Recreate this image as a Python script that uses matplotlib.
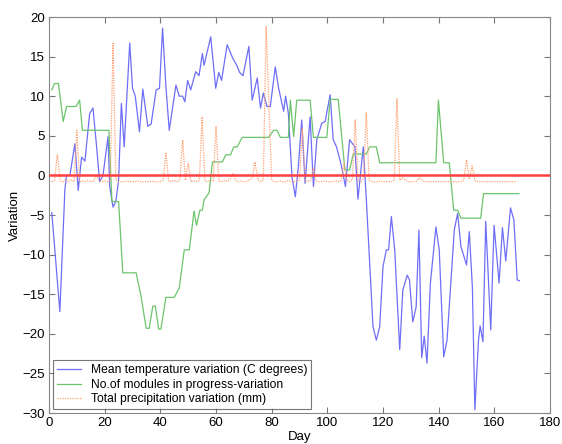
import matplotlib
matplotlib.use('Agg')
import matplotlib.pyplot as plt

plt.rcParams['font.family'] = ['Liberation Sans', 'DejaVu Sans']

# mean temperature variation (day, value)
temp_days = [1, 3.9, 5.7, 6.3, 7.5, 9.3, 10.5, 11.7, 12.9, 14.6, 15.8, 17, 18.2, 19.4, 21.2, 21.8,
             23, 24, 25, 26, 27, 29, 30, 31, 32.5, 33.7, 35.5, 36.7, 38.5, 39.7, 40.8, 42, 43.2,
             45.6, 46.8, 48, 48.8, 49.8, 50.9, 52.7, 53.9, 55.1, 55.7, 58.1, 59.9, 61, 62, 64, 66,
             67.3, 68.5, 69.7, 71.8, 73, 74.8, 76, 77, 78.3, 79.5, 81.3, 82.5, 84.3, 85, 86, 87.3,
             88.5, 89.6, 90.8, 92, 93.8, 95, 96.2, 98, 99.2, 101, 102.1, 103.3, 105, 106.5, 108,
             109.9, 111, 112.9, 114, 116.4, 117.6, 118.8, 120, 121.2, 122, 123, 124.2, 125.1, 126,
             127.1, 128.7, 129.5, 130.7, 131.9, 132.9, 133.9, 134.8, 135.8, 137, 139, 140.2, 141.8,
             143, 145.6, 146.8, 148, 150, 151, 152.1, 153, 154.3, 154.9, 155.9, 156.9, 158.7, 159.9,
             161.7, 162.9, 164.1, 165.8, 167, 168.2, 169]
temp_vals = [-4.7, -17.2, -1.8, 0, 0, 4, -1.9, 2.3, 1.8, 7.8, 8.5, 4, -0.8, 0, 4.9, -1.4,
             -4, -3.3, -0.6, 9.1, 3.6, 16.7, 11, 10, 5.5, 10.9, 6.2, 6.5, 10.8, 11, 18.6, 11.2, 5.7,
             11.4, 10, 10, 9.3, 12, 10.8, 13.1, 12.6, 15.4, 13.9, 17.5, 11, 13, 12, 16.5, 14.8,
             14, 13, 12.6, 16.3, 9.5, 12.3, 8.5, 10.4, 8.7, 8.7, 13.7, 11, 8.1, 10, 7.8, -0.2,
             -2.7, 1.2, 7, -1, 7.4, -1.4, 4.5, 6.6, 6.8, 10.2, 4.5, 3.6, 1.3, -1.4, 4.5,
             3.6, -3, 3.6, -3, -19.1, -20.8, -19.1, -11.5, -9.4, -9.4, -5.2, -9.4, -15.7, -22,
             -14.5, -12.6, -13.2, -18.5, -16.6, -6.9, -23, -20.3, -23.7, -13.7, -6.5, -9.4, -22.9,
             -20.8, -6.9, -4.8, -9, -11.3, -7.1, -14.1, -29.6, -20.8, -19, -21, -5.8, -19.5, -6.3,
             -13.6, -6.6, -10.8, -4.1, -5.6, -13.2, -13.3]

# number of modules in progress variation (day, value)
mod_days = [1, 2, 3.4, 5.1, 6.3, 9.7, 11, 12, 21.5, 22.6, 25, 26.5, 31.3, 33.1, 34.9, 36, 37.3,
            38.2, 39.4, 40.2, 42, 45, 46.8, 48.6, 50.4, 52.1, 53, 54.2, 55.1, 55.7, 57.5, 58.7,
            62.3, 63.5, 65.2, 66.4, 67.6, 69.4, 78.9, 80.7, 81.9, 83.1, 86, 86.7, 87.9, 89, 93.8,
            95, 99.8, 101, 103.9, 106.3, 108, 109.3, 114, 115.2, 117.6, 118.8, 139, 139.9, 141.8,
            143.8, 145.4, 146.8, 148, 155.1, 156.1, 168.8]
mod_vals = [10.8, 11.6, 11.6, 6.8, 8.7, 8.7, 9.5, 5.7, 5.7, -3.3, -3.3, -12.3, -12.3, -15.3, -19.3,
            -19.3, -16.5, -16.5, -19.4, -19.4, -15.4, -15.4, -14.2, -9.4, -9.4, -4.5, -6.3, -4.4,
            -4.4, -3.1, -2.2, 1.7, 1.7, 2.6, 2.6, 3.6, 3.6, 4.8, 4.8, 5.7, 5.7, 4.8, 4.8, 9.5, 4.9,
            9.5, 9.5, 4.8, 4.8, 9.6, 9.6, 0.7, 0.7, 2.7, 2.7, 3.6, 3.6, 1.6, 1.6, 9.5, 1.6, 1.6,
            -4.4, -4.4, -5.4, -5.4, -2.3, -2.3]

# total precipitation variation, one value per day from day 1 to 168
precip_vals = [
    -0.8, -0.6, 2.6, -0.7, -0.8, -0.5, -0.8, -0.6, -0.8, 5.7,
    -0.8, -0.7, -0.8, -0.6, -0.8, -0.7, 0.0, -0.6, -0.8, -0.7,
    -0.8, -0.6, 16.7, -0.5, -0.8, -0.8, -0.8, -0.7, -0.8, -0.8,
    -0.8, -0.7, -0.8, -0.8, -0.8, -0.8, -0.7, -0.8, -0.8, -0.8,
    -0.6, 2.8, -0.7, -0.8, -0.6, -0.8, -0.5, 4.5, -0.6, 1.5,
    -0.8, -0.7, -0.8, -0.6, 7.4, -0.7, -0.8, -0.6, -0.7, 6.2,
    -0.7, -0.8, -0.6, -0.8, -0.5, 0.3, -0.6, -0.8, -0.7, -0.8,
    -0.8, -0.6, -0.3, 1.7, -0.5, -0.8, -0.6, 18.8, 9.0, -0.6,
    -0.8, -0.8, -0.7, -0.8, -0.8, -0.6, -0.8, -0.8, -0.7, -0.6,
    5.9, -0.7, -0.8, -0.6, 1.0, -0.7, -0.8, -0.8, -0.7, -0.8,
    -0.8, -0.8, -0.7, -0.8, -0.6, 1.5, -0.6, -0.8, -0.5, 7.0,
    -0.7, -0.8, -0.3, 7.9, -0.6, -0.8, -0.8, -0.8, -0.7, -0.8,
    -0.8, -0.8, -0.8, -0.6, 9.7, -0.6, -0.3, -0.6, -0.8, -0.8,
    -0.8, -0.7, -0.3, -0.6, -0.8, -0.8, -0.8, -0.8, -0.8, -0.8,
    -0.8, -0.8, -0.8, -0.8, -0.8, -0.8, -0.8, -0.8, -0.6, 2.0,
    -0.5, 1.2, -0.6, -0.8, -0.8, -0.8, -0.8, -0.8, -0.8, -0.8,
    -0.8, -0.8, -0.8, -0.8, -0.8, -0.8, -0.8, -0.8,
]
precip_days = list(range(1, len(precip_vals) + 1))

zero_level = 0

fig = plt.figure(figsize=(5.62, 4.44), dpi=100)
ax = fig.add_axes([0.0872, 0.0698, 0.8915, 0.8919])

ax.plot(temp_days, temp_vals, color='#6e6ef8', lw=0.9, label='Mean temperature variation (C degrees)')
ax.plot(mod_days, mod_vals, color='#6cc46c', lw=0.9, label='No.of modules in progress-variation')
ax.plot(precip_days, precip_vals, color='#ffa070', lw=0.9, ls=(0, (1, 1)),
        label='Total precipitation variation (mm)')
ax.axhline(zero_level, color='#ff4040', lw=1.8, zorder=5)

ax.set_xlim(0, 180)
ax.set_ylim(-30, 20)
ax.set_xticks(range(0, 181, 20))
ax.set_yticks(range(-30, 21, 5))
ax.tick_params(direction='in', top=True, right=True, labelsize=9.5, length=4, color='#777777', pad=3)
for s in ax.spines.values():
    s.set_color('#888888')
ax.set_xlabel('Day', fontsize=9.5, labelpad=1)
ax.set_ylabel('Variation', fontsize=9.5, labelpad=1)

leg = ax.legend(loc='lower left', fontsize=8.7, frameon=True, fancybox=False,
                borderaxespad=0.3, handlelength=2.0, labelspacing=0.2, borderpad=0.35)
leg.get_frame().set_edgecolor('#555555')
leg.get_frame().set_linewidth(0.8)

fig.savefig('out.png', dpi=100)
